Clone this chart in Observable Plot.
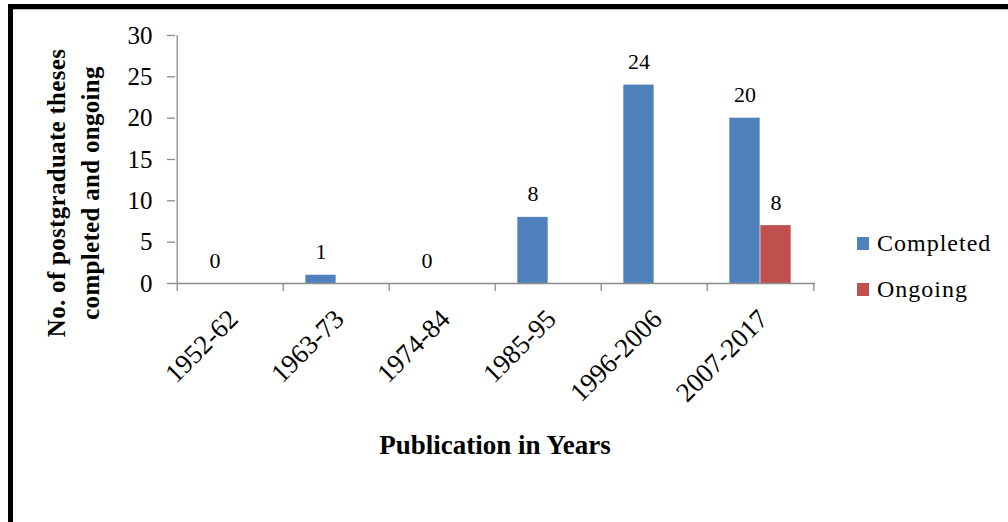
<!DOCTYPE html>
<html><head><meta charset="utf-8">
<script src="https://cdn.jsdelivr.net/npm/d3@7"></script>
<script src="https://cdn.jsdelivr.net/npm/@observablehq/plot@0.6"></script>
<style>
body{margin:0;background:#fff;font-family:"Liberation Serif","Times New Roman",serif;}
#wrap{position:relative;width:1008px;height:522px;overflow:hidden;background:#fff;font-family:"Liberation Serif","Times New Roman",serif;}
#frame{position:absolute;left:8px;top:4px;width:1010px;height:530px;border-top:5px solid #000;border-left:5px solid #000;box-sizing:border-box;}
#frame:after{content:"";position:absolute;left:0;right:0;top:0;height:1px;background:#bbb;}
#chart{position:absolute;left:0;top:0;}
#ytitle{position:absolute;width:380px;left:-116px;top:159px;height:68px;line-height:34px;font-weight:bold;font-size:25px;letter-spacing:0.3px;text-align:center;transform:rotate(-90deg);transform-origin:center;color:#000;font-family:"Liberation Serif","Times New Roman",serif;}
#xtitle{position:absolute;left:245px;width:500px;top:430px;text-align:center;font-weight:bold;font-size:27px;color:#000;font-family:"Liberation Serif","Times New Roman",serif;}
#legend{position:absolute;left:857px;top:226px;font-size:24px;letter-spacing:1px;color:#000;font-family:"Liberation Serif","Times New Roman",serif;}
.li{display:flex;align-items:center;height:34px;margin-bottom:12px;}
.sw{width:12px;height:13px;margin-right:8px;}
</style>
</head><body>
<div id="wrap">
<div id="chart"></div>
<div id="frame"></div>
<div id="ytitle">No. of postgraduate theses<br>completed and ongoing</div>
<div id="xtitle">Publication in Years</div>
<div id="legend"></div>
</div>
<script>
const periods = ["1952-62","1963-73","1974-84","1985-95","1996-2006","2007-2017"];
const completed = [0,1,0,8,24,20];
const ongoing = [0,0,0,0,0,7];
const completedLabels = ["0","1","0","8","24","20"];
const ongoingLabels = ["","","","","","8"];
const yTicks = [0,5,10,15,20,25,30];
const seriesNames = ["Completed","Ongoing"];
const seriesColors = ["#4F81BD","#C0504D"];

const W = 1008, H = 522, ml = 175, mr = 193, mt = 35, mb = 239;
const bw = (W - ml - mr) / periods.length;
const barW = 31;
const axisColor = "#8c8c8c";
const serif = "Liberation Serif, Times New Roman, serif";

const rows = periods.map((p, i) => ({period: p, completed: completed[i], ongoing: ongoing[i], cl: completedLabels[i], ol: ongoingLabels[i]}));

const chart = Plot.plot({
  width: W, height: H,
  marginLeft: ml, marginRight: mr, marginTop: mt, marginBottom: mb,
  style: {fontFamily: serif, color: "#000", background: "transparent"},
  x: {domain: periods, padding: 0, label: null},
  y: {domain: [0, 30], label: null},
  marks: [
    Plot.barY(rows, {x: "period", y: "completed", fill: seriesColors[0], insetLeft: bw/2 - barW, insetRight: bw/2}),
    Plot.barY(rows, {x: "period", y: "ongoing", fill: seriesColors[1], insetLeft: bw/2, insetRight: bw/2 - barW}),
    Plot.ruleX([0], {x: () => periods[0], dx: -bw/2, stroke: axisColor, strokeWidth: 1.3, y1: 0, y2: 30}),
    Plot.ruleY([0], {stroke: axisColor, strokeWidth: 1.3}),
    Plot.axisY({ticks: yTicks, tickSize: 8, tickPadding: 15, fontSize: 25, fontFamily: serif, stroke: axisColor, strokeWidth: 1.3}),
    Plot.axisX({tickSize: 8, text: null, dx: -bw/2, stroke: axisColor, strokeWidth: 1.3}),
    Plot.axisX([periods[periods.length-1]], {tickSize: 8, text: null, dx: bw/2, stroke: axisColor, strokeWidth: 1.3}),
    Plot.axisX({tickSize: 0, tickRotate: -45, tickPadding: 31, dx: 3, fontSize: 27, fontFamily: serif}),
    Plot.text(rows, {x: "period", y: "completed", text: "cl", dx: -barW/2, dy: -23, fontSize: 22, fontFamily: serif, fill: "#000"}),
    Plot.text(rows, {x: "period", y: "ongoing", text: "ol", dx: barW/2, dy: -23, fontSize: 22, fontFamily: serif, fill: "#000"})
  ]
});
document.getElementById("chart").appendChild(chart);

const lg = document.getElementById("legend");
seriesNames.forEach((n, i) => {
  const d = document.createElement("div");
  d.className = "li";
  d.innerHTML = `<span class="sw" style="background:${seriesColors[i]}"></span><span style="font-family:'Liberation Serif','Times New Roman',serif">${n}</span>`;
  lg.appendChild(d);
});
</script>
</body></html>
